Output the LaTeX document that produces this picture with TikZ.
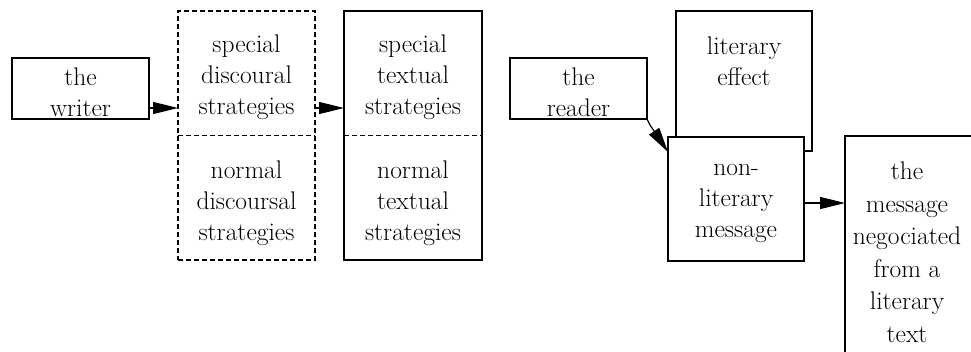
\documentclass[tikz,border=0pt]{standalone}
\usetikzlibrary{arrows.meta}
\begin{document}
\begin{tikzpicture}[x=1pt,y=-1pt,
  box/.style={draw, line width=1.2pt, inner sep=0pt, outer sep=0pt},
  dsh/.style={dash pattern=on 5pt off 3pt},
  lbl/.style={align=center, font=\fontsize{25.5}{31}\selectfont, inner sep=0pt},
  arr/.style={-{Triangle[length=25pt,width=12pt]}, line width=1.2pt}]
\useasboundingbox (0,0) rectangle (971,351);
% boxes
\node[box, minimum width=137pt, minimum height=61pt] (writer) at (80.5,88.5) {};
\node[box, dsh, minimum width=137pt, minimum height=249pt] (disc) at (246.5,135.5) {};
\draw[dsh, line width=1.2pt] (disc.west) -- (disc.east);
\node[box, minimum width=138pt, minimum height=249pt] (textual) at (413,135.5) {};
\draw[dsh, line width=1.2pt] (textual.west) -- (textual.east);
\node[box, minimum width=137pt, minimum height=61pt] (reader) at (578.5,88.5) {};
\node[box, minimum width=136pt, minimum height=140pt] (literary) at (744,81) {};
\node[box, fill=white, minimum width=136pt, minimum height=124pt] (nonlit) at (736,199) {};
\coordinate (msgBL) at (845,352);
\coordinate (msgTL) at (845,136);
\coordinate (msgTR) at (972,136);
\draw[line width=1.2pt] (msgBL) -- (msgTL) -- (msgTR);
% texts
\node[lbl] (twriter) at (80.5,92) {the\\writer};
\node[lbl] (tdisc1) at (246.5,77) {special\\discoural\\strategies};
\node[lbl] (tdisc2) at (246.5,203) {normal\\discoursal\\strategies};
\node[lbl] (ttext1) at (413,77) {special\\textual\\strategies};
\node[lbl] (ttext2) at (413,203) {normal\\textual\\strategies};
\node[lbl] (treader) at (578.5,92) {the\\reader};
\node[lbl] (tlit) at (744,61) {literary\\effect};
\node[lbl] (tnonlit) at (736,203) {non-\\literary\\message};
\node[lbl, font=\fontsize{25.5}{32.5}\selectfont] (tmsg) at (907,252) {the\\message\\negociated\\from a\\literary\\text};
% arrows
\draw[arr] ([yshift=-19.5pt]writer.east) -- ([yshift=-19.5pt]writer.east -| disc.west);
\draw[arr] ([yshift=27.5pt]disc.east) -- ([yshift=27.5pt]disc.east -| textual.west);
\draw[arr] (reader.south east) -- ++(3,6) -- ([yshift=-15pt]nonlit.north west);
\draw[arr] ([yshift=-4pt]nonlit.east) -- ([yshift=-4pt]nonlit.east -| msgTL);
\end{tikzpicture}
\end{document}
